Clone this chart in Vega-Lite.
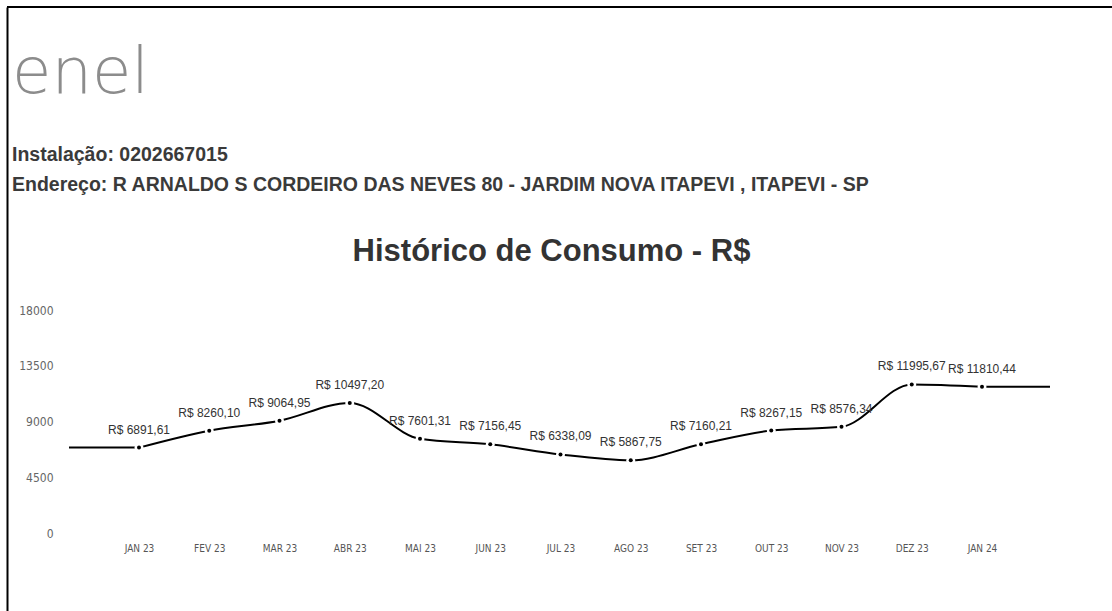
{
  "$schema": "https://vega.github.io/schema/vega-lite/v6.json",
  "width": 1105,
  "height": 604,
  "autosize": {"type": "none"},
  "padding": {"left": 7, "top": 7, "right": 0, "bottom": 0},
  "background": "white",
  "config": {
    "view": {"stroke": null},
    "locale": {"number": {"decimal": ",", "thousands": ".", "grouping": [3], "currency": ["R$ ", ""]}}
  },
  "title": {
    "text": "enel",
    "subtitle": ["Instalação: 0202667015", "Endereço: R ARNALDO S CORDEIRO DAS NEVES 80  - JARDIM NOVA ITAPEVI , ITAPEVI - SP"],
    "anchor": "start",
    "frame": "group",
    "orient": "top",
    "offset": -188,
    "dx": 5,
    "font": "DejaVu Sans",
    "fontWeight": 200,
    "fontSize": 64,
    "color": "#8c8c8c",
    "subtitleFont": "Liberation Sans",
    "subtitleFontSize": 19.5,
    "subtitleFontWeight": "bold",
    "subtitleColor": "#3a3a3a",
    "subtitleLineHeight": 30,
    "subtitlePadding": 40
  },
  "data": {
    "values": [
      {"mes": "JAN 23", "valor": 6891.61},
      {"mes": "FEV 23", "valor": 8260.10},
      {"mes": "MAR 23", "valor": 9064.95},
      {"mes": "ABR 23", "valor": 10497.20},
      {"mes": "MAI 23", "valor": 7601.31},
      {"mes": "JUN 23", "valor": 7156.45},
      {"mes": "JUL 23", "valor": 6338.09},
      {"mes": "AGO 23", "valor": 5867.75},
      {"mes": "SET 23", "valor": 7160.21},
      {"mes": "OUT 23", "valor": 8267.15},
      {"mes": "NOV 23", "valor": 8576.34},
      {"mes": "DEZ 23", "valor": 11995.67},
      {"mes": "JAN 24", "valor": 11810.44}
    ]
  },
  "layer": [
    {
      "mark": {"type": "rule", "strokeWidth": 2, "color": "black"},
      "encoding": {
        "y": {"datum": 42458, "type": "quantitative",
          "scale": {"domain": [-6296, 42458], "nice": false, "zero": false},
          "axis": {"orient": "left", "values": [0, 4500, 9000, 13500, 18000], "format": "d",
            "domain": true, "domainColor": "black", "domainWidth": 2,
            "ticks": false, "tickSize": 0, "grid": false,
            "labelPadding": -46, "labelAlign": "right", "labelBaseline": "middle",
            "labelFont": "Liberation Sans Narrow, DejaVu Sans Condensed, Liberation Sans, sans-serif", "labelFontSize": 12, "labelColor": "#666666", "title": null}}
      }
    },
    {
      "encoding": {
        "x": {"field": "mes", "type": "ordinal", "sort": null,
          "scale": {"type": "point", "range": [132, 975], "padding": 0},
          "axis": {"orient": "bottom", "domain": false, "ticks": false, "tickSize": 0, "grid": false, "labelAngle": 0, "labelPadding": -63, "labelBaseline": "middle",
            "labelFont": "Liberation Sans Narrow, DejaVu Sans Condensed, Liberation Sans, sans-serif", "labelFontSize": 10, "labelColor": "#555555",
            "title": "Histórico de Consumo - R$", "titleX": 544, "titleY": -351, "titleAlign": "center", "titleBaseline": "alphabetic", "titleAnchor": null,
            "titleFont": "Liberation Sans", "titleFontSize": 31, "titleFontWeight": "bold", "titleColor": "#333333"}},
        "y": {"field": "valor", "type": "quantitative",
          "scale": {"domain": [-6296, 42458], "nice": false, "zero": false},
          "axis": {"orient": "left", "values": [0, 4500, 9000, 13500, 18000], "format": "d",
            "domain": true, "domainColor": "black", "domainWidth": 2,
            "ticks": false, "tickSize": 0, "grid": false,
            "labelPadding": -46, "labelAlign": "right", "labelBaseline": "middle",
            "labelFont": "Liberation Sans Narrow, DejaVu Sans Condensed, Liberation Sans, sans-serif", "labelFontSize": 12, "labelColor": "#666666", "title": null}}
      },
      "layer": [
        {
          "mark": {"type": "line", "interpolate": "monotone", "strokeWidth": 2, "color": "black"}
        },
        {
          "transform": [{"filter": "datum.mes == 'JAN 23'"}],
          "mark": {"type": "rule", "x2Offset": -70, "strokeWidth": 2, "color": "black"},
          "encoding": {"x2": {"field": "mes"}}
        },
        {
          "transform": [{"filter": "datum.mes == 'JAN 24'"}],
          "mark": {"type": "rule", "x2Offset": 68, "strokeWidth": 2, "color": "black"},
          "encoding": {"x2": {"field": "mes"}}
        },
        {
          "mark": {"type": "point", "filled": true, "color": "white", "opacity": 1, "size": 80}
        },
        {
          "mark": {"type": "point", "filled": true, "color": "black", "opacity": 1, "size": 16}
        },
        {
          "mark": {"type": "text", "dy": -18, "font": "Liberation Sans", "fontSize": 12, "color": "#333333", "baseline": "middle"},
          "encoding": {
            "text": {"field": "valor", "type": "quantitative", "format": "$.2f"}
          }
        }
      ]
    }
  ]
}
